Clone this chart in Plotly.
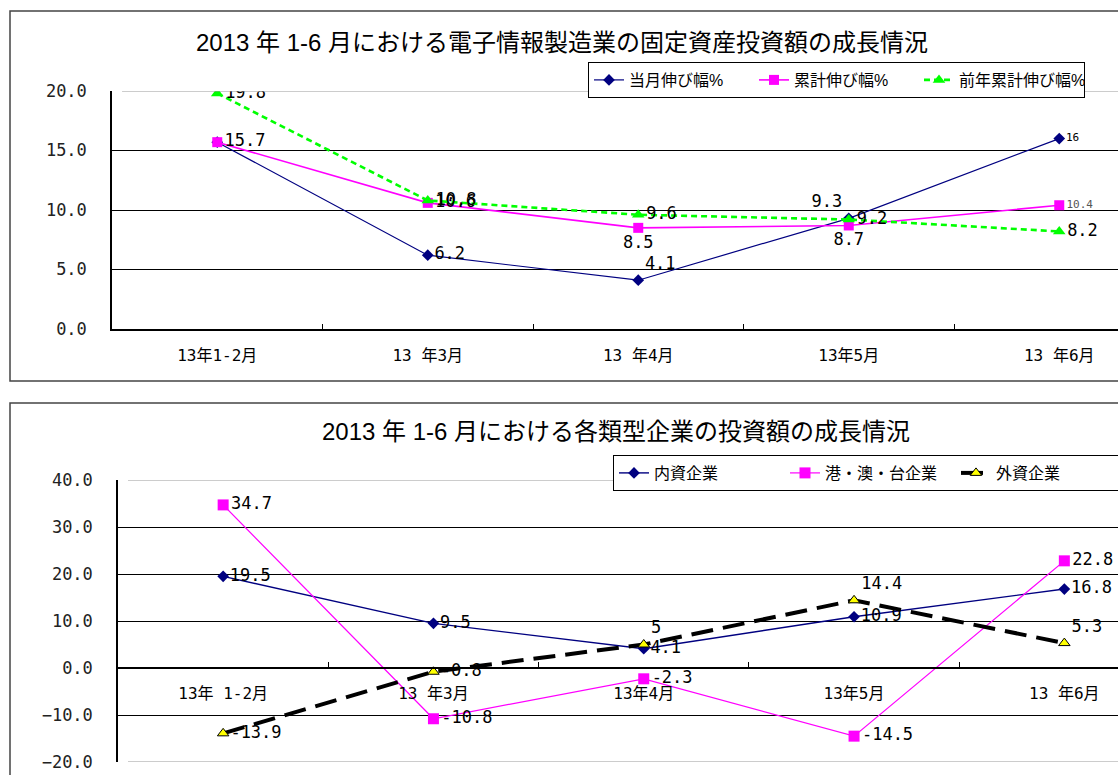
import plotly.graph_objects as go

W, H = 1118, 775

# Categories
months_top = ["13年1-2月", "13 年3月", "13 年4月", "13年5月", "13 年6月"]
months_bottom = ["13年 1-2月", "13 年3月", "13年4月", "13年5月", "13 年6月"]

# 電子情報製造業の固定資産投資額 (%)
monthly_growth = [15.7, 6.2, 4.1, 9.3, 16.0]
cumulative_growth = [15.7, 10.6, 8.5, 8.7, 10.4]
prev_year_cumulative = [19.8, 10.8, 9.6, 9.2, 8.2]

monthly_labels = ["", "6.2", "4.1", "9.3", "16"]
cumulative_labels = ["15.7", "10.6", "8.5", "8.7", "10.4"]
prev_year_labels = ["19.8", "10.8", "9.6", "9.2", "8.2"]

# 各類型企業の投資額 (%)
domestic = [19.5, 9.5, 4.1, 10.9, 16.8]
hk_macau_tw = [34.7, -10.8, -2.3, -14.5, 22.8]
foreign = [-13.9, -0.8, 5.0, 14.4, 5.3]

domestic_labels = ["19.5", "9.5", "4.1", "10.9", "16.8"]
hk_macau_tw_labels = ["34.7", "-10.8", "-2.3", "-14.5", "22.8"]
foreign_labels = ["-13.9", "-0.8", "5", "14.4", "5.3"]

top_title = "2013 年 1-6 月における電子情報製造業の固定資産投資額の成長情況"
bottom_title = "2013 年 1-6 月における各類型企業の投資額の成長情況"

MONO = "DejaVu Sans Mono, Noto Sans CJK JP"
CJK = "Liberation Sans, Noto Sans CJK JP"
NAVY = "#000080"
MAGENTA = "#FF00FF"
GREEN = "#00FF00"


def px_x(p):
    return p / W


def px_y(p):
    return 1 - p / H


fig = go.Figure()

# ---- upper chart ----
fig.add_trace(go.Scatter(
    x=months_top, y=monthly_growth, name="当月伸び幅%",
    mode="lines+markers+text", text=monthly_labels,
    textposition=["middle right", "middle right", "top right", "top left", "middle right"],
    textfont=dict(family=MONO, size=[17, 17, 17, 17, 11], color="black"),
    line=dict(color=NAVY, width=1.2),
    marker=dict(symbol="diamond", size=9, color=NAVY),
    xaxis="x", yaxis="y", legend="legend", cliponaxis=True,
))
fig.add_trace(go.Scatter(
    x=months_top, y=cumulative_growth, name="累計伸び幅%",
    mode="lines+markers+text", text=cumulative_labels,
    textposition=["middle right", "middle right", "bottom center", "bottom center", "middle right"],
    textfont=dict(family=MONO, size=[17, 17, 17, 17, 11],
                  color=["black", "black", "black", "black", "#555555"]),
    line=dict(color=MAGENTA, width=1.6),
    marker=dict(symbol="square", size=10, color=MAGENTA),
    xaxis="x", yaxis="y", legend="legend", cliponaxis=True,
))
fig.add_trace(go.Scatter(
    x=months_top, y=prev_year_cumulative, name="前年累計伸び幅%",
    mode="lines+markers+text", text=prev_year_labels,
    textposition="middle right",
    textfont=dict(family=MONO, size=17, color="black"),
    line=dict(color=GREEN, width=2.6, dash="6px,4px"),
    marker=dict(symbol="triangle-up", size=11, color=GREEN),
    xaxis="x", yaxis="y", legend="legend", cliponaxis=True,
))

# ---- lower chart ----
fig.add_trace(go.Scatter(
    x=months_bottom, y=domestic, name="内資企業",
    mode="lines+markers+text", text=domestic_labels,
    textposition="middle right",
    textfont=dict(family=MONO, size=17, color="black"),
    line=dict(color=NAVY, width=1.4),
    marker=dict(symbol="diamond", size=9, color=NAVY),
    xaxis="x2", yaxis="y2", legend="legend2", cliponaxis=True,
))
fig.add_trace(go.Scatter(
    x=months_bottom, y=hk_macau_tw, name="港・澳・台企業",
    mode="lines+markers+text", text=hk_macau_tw_labels,
    textposition="middle right",
    textfont=dict(family=MONO, size=17, color="black"),
    line=dict(color=MAGENTA, width=1.2),
    marker=dict(symbol="square", size=11, color=MAGENTA),
    xaxis="x2", yaxis="y2", legend="legend2", cliponaxis=True,
))
fig.add_trace(go.Scatter(
    x=months_bottom, y=foreign, name="外資企業",
    mode="lines+markers+text", text=foreign_labels,
    textposition=["middle right", "middle right", "top right", "top right", "top right"],
    textfont=dict(family=MONO, size=17, color="black"),
    line=dict(color="black", width=4, dash="22px,10px"),
    marker=dict(symbol="triangle-up", size=10, color="#FFFF00",
                line=dict(color="black", width=1)),
    xaxis="x2", yaxis="y2", legend="legend2", cliponaxis=True,
))

# axis geometry
top_ydom = [px_y(329), px_y(91)]
bot_ydom = [px_y(762), px_y(480)]
top_range = [0, 20]
bot_range = [-20, 40]
step_top, step_bot = 210.5, 210.3
zero_pos = bot_ydom[0] + (0 - bot_range[0]) / (bot_range[1] - bot_range[0]) * (bot_ydom[1] - bot_ydom[0])

common_x = dict(
    type="category", showgrid=False, showline=True, linecolor="black", linewidth=1.5,
    ticks="inside", ticklen=5, tickcolor="black", tickson="boundaries",
    tickfont=dict(family=MONO, size=16, color="black"),
    ticklabelstandoff=11, fixedrange=True,
)
common_y = dict(
    showgrid=True, gridcolor="black", gridwidth=1, zeroline=False,
    showline=True, linecolor="black", linewidth=1.5, ticks="",
    tickformat=".1f", tickfont=dict(family=MONO, size=17, color="#222222"),
    ticklabelstandoff=20, fixedrange=True,
)

legend_common = dict(
    orientation="h", xanchor="left", yanchor="top",
    bordercolor="black", borderwidth=1, bgcolor="white",
    font=dict(family=CJK, size=16, color="black"),
    entrywidthmode="pixels",
)

fig.update_layout(
    width=W, height=H,
    margin=dict(l=0, r=0, t=0, b=0, autoexpand=False),
    paper_bgcolor="white", plot_bgcolor="white",
    xaxis=dict(common_x, domain=[px_x(112), 1],
               range=[-0.5, -0.5 + (W - 112) / step_top], anchor="y"),
    yaxis=dict(common_y, domain=top_ydom, range=top_range,
               tickvals=[0, 5, 10, 15, 20], anchor="x"),
    xaxis2=dict(common_x, domain=[px_x(118), 1],
                range=[-0.5, -0.5 + (W - 118) / step_bot],
                anchor="free", position=zero_pos),
    yaxis2=dict(common_y, domain=bot_ydom, range=bot_range,
                tickvals=[-20, -10, 0, 10, 20, 30, 40], anchor="x2"),
    legend=dict(legend_common, x=px_x(588), y=px_y(62), entrywidth=120),
    legend2=dict(legend_common, x=px_x(613), y=px_y(455), entrywidth=126),
    annotations=[
        dict(text=top_title, x=px_x(562), y=px_y(43), xref="paper", yref="paper",
             xanchor="center", yanchor="middle", showarrow=False,
             font=dict(family=CJK, size=24, color="black")),
        dict(text=bottom_title, x=px_x(616), y=px_y(432), xref="paper", yref="paper",
             xanchor="center", yanchor="middle", showarrow=False,
             font=dict(family=CJK, size=24, color="black")),
    ],
    shapes=[
        # chart frames
        dict(type="rect", xref="paper", yref="paper", x0=px_x(10), x1=1.05,
             y0=px_y(381), y1=px_y(11), line=dict(color="#444444", width=1.5),
             layer="below"),
        dict(type="rect", xref="paper", yref="paper", x0=px_x(10), x1=1.05,
             y0=-0.05, y1=px_y(403), line=dict(color="#444444", width=1.5),
             layer="below"),
        # lighter plot-area edges
        dict(type="line", xref="x domain", yref="y", x0=0.01, x1=1, y0=20, y1=20,
             line=dict(color="#9a9a9a", width=1.2), layer="above"),
        dict(type="line", xref="x2 domain", yref="y2", x0=0.01, x1=1, y0=40, y1=40,
             line=dict(color="#9a9a9a", width=1.2), layer="above"),
        dict(type="line", xref="x2 domain", yref="y2", x0=0.01, x1=1, y0=-20, y1=-20,
             line=dict(color="#9a9a9a", width=1.2), layer="above"),
    ],
    showlegend=True,
)

fig.write_html("out.html", config={"displayModeBar": False})
